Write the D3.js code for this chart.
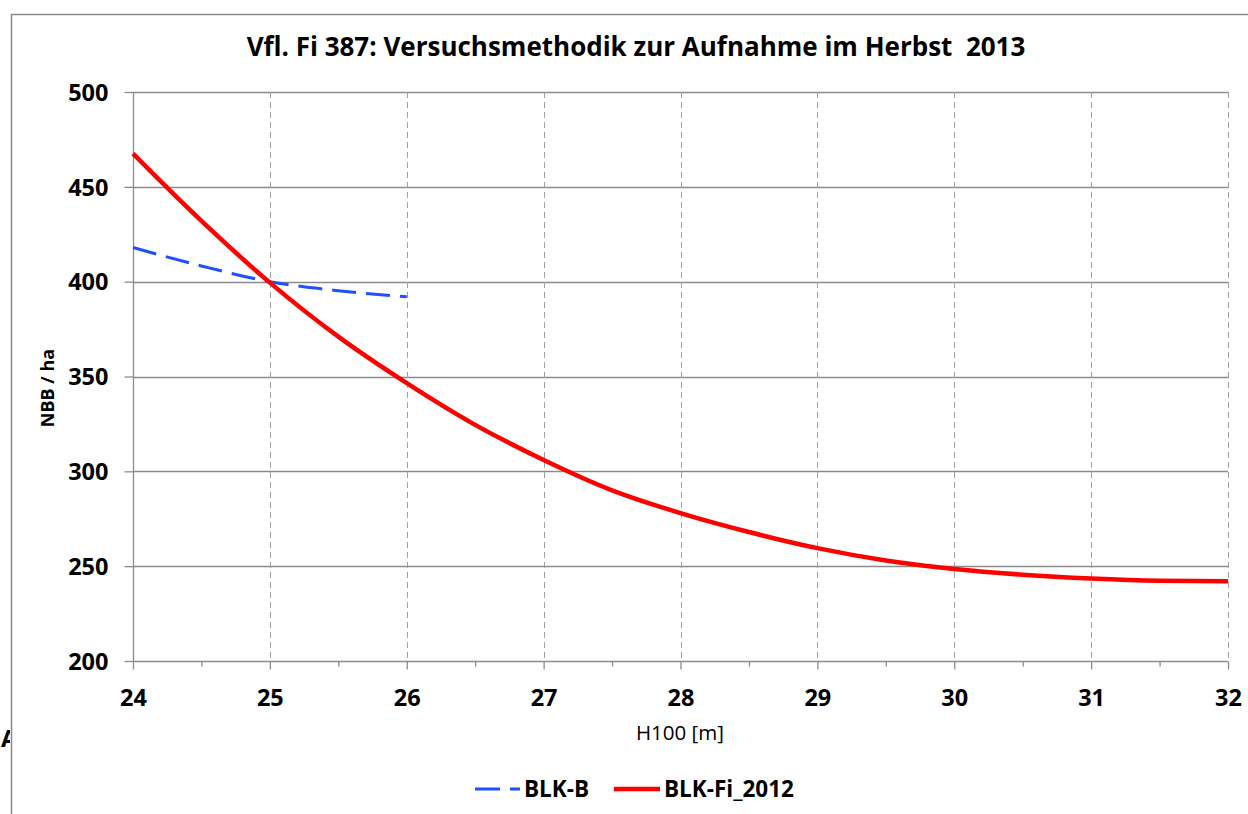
<!DOCTYPE html>
<html><head><meta charset="utf-8">
<script src="https://cdn.jsdelivr.net/npm/d3@7/dist/d3.min.js"></script>
<style>body{margin:0;background:#fff}svg{display:block}text{font-family:"Open Sans",sans-serif;white-space:pre}</style>
</head><body>
<script>
const xTicks = [24,25,26,27,28,29,30,31,32];
const yTicks = [200,250,300,350,400,450,500];
const fiX = [24,24.5,25,25.5,26,26.5,27,27.5,28,28.5,29,29.5,30,30.5,31,31.5,32];
const fiY = [467.5,432,399.5,371,346.5,324.5,306,290,278,268,259.5,253,248.5,245.5,243.5,242.3,242];
const bX = [24,24.5,25,25.5,26];
const bY = [418,408.3,400,395.2,392];
const seriesNames = ["BLK-B","BLK-Fi_2012"];
const titleText = "Vfl. Fi 387: Versuchsmethodik zur Aufnahme im Herbst  2013";

const W=1248,H=814;
const svg=d3.select("body").append("svg").attr("width",W).attr("height",H);
const x=d3.scaleLinear().domain([24,32]).range([133,1228]);
const y=d3.scaleLinear().domain([200,500]).range([661,92]);

// outer frame
svg.append("path").attr("d",`M11.5,${H} V14.5 H${W}`).attr("fill","none").attr("stroke","#8a8a8a").attr("stroke-width",1.5);
// clipped A
svg.append("clipPath").attr("id","ca").append("rect").attr("x",0).attr("y",700).attr("width",10).attr("height",60);
svg.append("text").attr("clip-path","url(#ca)").attr("x",1).attr("y",747).attr("font-size",24).attr("font-weight","bold").text("A");

// horizontal grid
svg.append("g").selectAll("line").data(yTicks.filter(d=>d>200)).join("line")
 .attr("x1",x(24)).attr("x2",x(32)).attr("y1",d=>Math.round(y(d))+0.5).attr("y2",d=>Math.round(y(d))+0.5)
 .attr("stroke","#8c8c8c").attr("stroke-width",1.3);
// vertical grid dashed
svg.append("g").selectAll("line").data(xTicks.filter(d=>d>24)).join("line")
 .attr("x1",d=>Math.round(x(d))+0.5).attr("x2",d=>Math.round(x(d))+0.5).attr("y1",y(500)).attr("y2",y(200))
 .attr("stroke","#a0a0a0").attr("stroke-width",1).attr("stroke-dasharray","6,4");

// axes
const xa=svg.append("g").attr("transform",`translate(0,${Math.round(y(200))+0.5})`)
 .call(d3.axisBottom(x).tickValues(xTicks).tickSize(8).tickPadding(10).tickFormat(d3.format("d")));
const xm=svg.append("g").attr("transform",`translate(0,${Math.round(y(200))+0.5})`)
 .call(d3.axisBottom(x).tickValues(d3.range(24.5,32,1)).tickSize(5).tickFormat(""));
const ya=svg.append("g").attr("transform",`translate(${Math.round(x(24))+0.5},0)`)
 .call(d3.axisLeft(y).tickValues(yTicks).tickSize(9).tickPadding(16).tickFormat(d3.format("d")));
[xa,xm,ya].forEach(g=>{
  g.select(".domain").attr("stroke","#8c8c8c").attr("stroke-width",1.3);
  g.selectAll(".tick line").attr("stroke","#8c8c8c").attr("stroke-width",1.3);
  g.selectAll("text").attr("font-family","'Open Sans',sans-serif").attr("font-size",23.5).attr("font-weight","bold").attr("fill","#000");
});
xa.selectAll("text").attr("y",0).attr("dy",0).attr("transform","translate(0,44)");
ya.selectAll("text").attr("dy","0.35em");
xa.select(".domain").attr("d",`M${x(24)},0H${x(32)}`);
xm.select(".domain").remove();
ya.select(".domain").attr("d",`M0,${y(200)}V${y(500)}`);

// lines
const line=d3.line().x(d=>x(d[0])).y(d=>y(d[1])).curve(d3.curveMonotoneX);
svg.append("path").datum(bX.map((v,i)=>[v,bY[i]])).attr("d",line).attr("fill","none")
 .attr("stroke","#1f4fff").attr("stroke-width",3).attr("stroke-dasharray","24,10");
svg.append("path").datum(fiX.map((v,i)=>[v,fiY[i]])).attr("d",line).attr("fill","none")
 .attr("stroke","#ff0000").attr("stroke-width",4.5);

// titles
svg.append("text").attr("x",636).attr("y",56).attr("text-anchor","middle").attr("font-size",26).attr("font-weight","bold").text(titleText);
svg.append("text").attr("transform","translate(54,388) rotate(-90)").attr("text-anchor","middle").attr("font-size",18).attr("font-weight","bold").text("NBB / ha");
svg.append("text").attr("x",680).attr("y",740).attr("text-anchor","middle").attr("font-size",20.5).attr("font-weight","normal").text("H100 [m]");

// legend
const lg=svg.append("g");
lg.append("path").attr("d","M475,789H500M510,789H520").attr("stroke","#1f4fff").attr("stroke-width",3);
lg.append("text").attr("x",524).attr("y",797).attr("font-size",22.5).attr("font-weight","bold").text(seriesNames[0]);
lg.append("path").attr("d","M614,789H660").attr("stroke","#ff0000").attr("stroke-width",4.5);
lg.append("text").attr("x",664).attr("y",797).attr("font-size",22.5).attr("font-weight","bold").text(seriesNames[1]);
</script>
</body></html>
